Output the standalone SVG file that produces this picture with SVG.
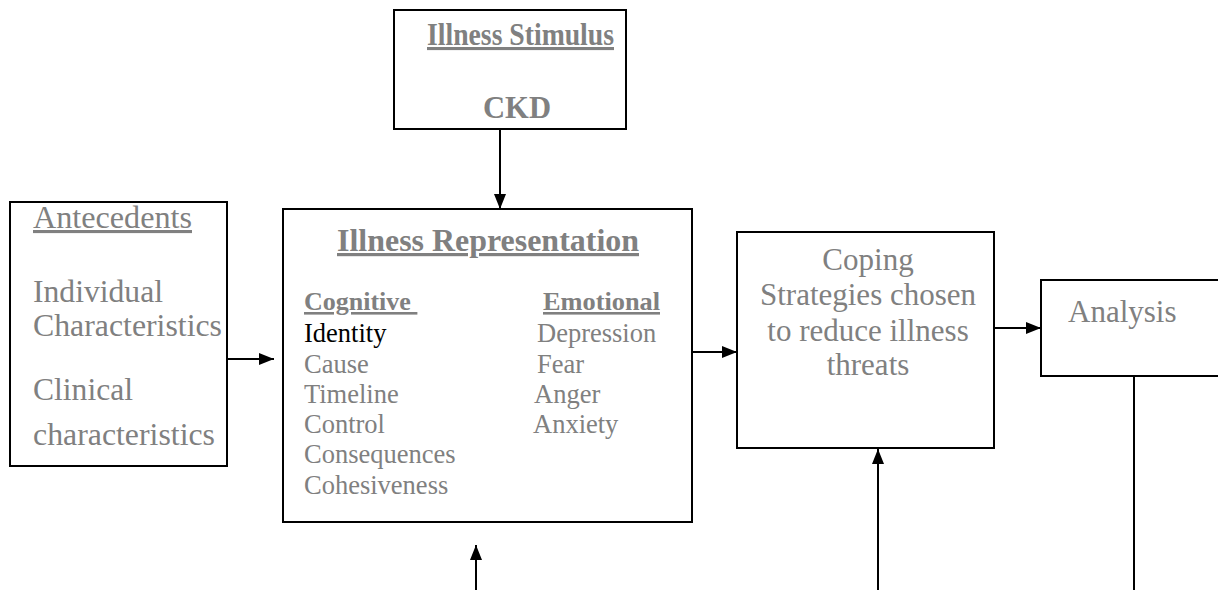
<svg xmlns="http://www.w3.org/2000/svg" width="1218" height="590" viewBox="0 0 1218 590">
<style>
.box{fill:#fff;stroke:#000;stroke-width:2}
.t{font-family:"Liberation Serif","Times New Roman",serif;fill:#808080}
.b{font-weight:bold}
.u{text-decoration:underline}
.k{fill:#000}
.m{text-anchor:middle}
.c{stroke:#000;stroke-width:2;fill:none}
</style>
<defs>
<marker id="ah" markerUnits="userSpaceOnUse" markerWidth="15" markerHeight="12" refX="15" refY="6" orient="auto" viewBox="0 0 15 12">
<path d="M0,0 L15,6 L0,12 z" fill="#000"/>
</marker>
</defs>
<rect width="1218" height="590" fill="#fff"/>
<g id="stimulus">
<rect class="box" x="394" y="10" width="232" height="119"/>
<text class="t b u" x="427" y="45" font-size="31" textLength="187" lengthAdjust="spacingAndGlyphs">Illness Stimulus</text>
<text class="t b" x="483" y="118" font-size="31" textLength="68" lengthAdjust="spacingAndGlyphs">CKD</text>
</g>
<g id="antecedents">
<rect class="box" x="10" y="202" width="217" height="264"/>
<text class="t u" x="33" y="228" font-size="31" textLength="159" lengthAdjust="spacingAndGlyphs">Antecedents</text>
<text class="t" x="33" y="302" font-size="31" textLength="130" lengthAdjust="spacingAndGlyphs">Individual</text>
<text class="t" x="33" y="336" font-size="31" textLength="189" lengthAdjust="spacingAndGlyphs">Characteristics</text>
<text class="t" x="33" y="400" font-size="31" textLength="100" lengthAdjust="spacingAndGlyphs">Clinical</text>
<text class="t" x="33" y="445" font-size="31" textLength="182" lengthAdjust="spacingAndGlyphs">characteristics</text>
</g>
<g id="representation">
<rect class="box" x="283" y="209" width="409" height="313"/>
<text class="t b u" x="337" y="251" font-size="32" textLength="302" lengthAdjust="spacingAndGlyphs">Illness Representation</text>
<text class="t b u" x="304" y="310" font-size="26" xml:space="preserve">Cognitive </text>
<text class="t b u" x="543" y="310" font-size="26" textLength="117" lengthAdjust="spacingAndGlyphs">Emotional</text>
<text class="t k" x="304" y="342" font-size="26.5">Identity</text>
<text class="t" x="304" y="373" font-size="26.5">Cause</text>
<text class="t" x="304" y="403" font-size="26.5">Timeline</text>
<text class="t" x="304" y="433" font-size="26.5">Control</text>
<text class="t" x="304" y="463" font-size="26.5">Consequences</text>
<text class="t" x="304" y="494" font-size="26.5">Cohesiveness</text>
<text class="t" x="537" y="342" font-size="26.5">Depression</text>
<text class="t" x="537" y="373" font-size="26.5">Fear</text>
<text class="t" x="534" y="403" font-size="26.5">Anger</text>
<text class="t" x="533" y="433" font-size="26.5">Anxiety</text>
</g>
<g id="coping">
<rect class="box" x="737" y="232" width="257" height="216"/>
<text class="t m" x="868" y="270" font-size="31">Coping</text>
<text class="t m" x="868" y="305" font-size="31">Strategies chosen</text>
<text class="t m" x="868" y="341" font-size="31">to reduce illness</text>
<text class="t m" x="868" y="375" font-size="31">threats</text>
</g>
<g id="analysis">
<rect class="box" x="1041" y="280" width="190" height="96"/>
<text class="t" x="1068" y="322" font-size="31">Analysis</text>
</g>
<g id="connectors">
<line class="c" x1="500" y1="130" x2="500" y2="209" marker-end="url(#ah)"/>
<line class="c" x1="227" y1="359" x2="274" y2="359" marker-end="url(#ah)"/>
<line class="c" x1="692" y1="352" x2="737" y2="352" marker-end="url(#ah)"/>
<line class="c" x1="994" y1="328" x2="1041" y2="328" marker-end="url(#ah)"/>
<line class="c" x1="878" y1="590" x2="878" y2="449" marker-end="url(#ah)"/>
<line class="c" x1="1134" y1="376" x2="1134" y2="590"/>
<line class="c" x1="476" y1="590" x2="476" y2="545" marker-end="url(#ah)"/>
</g>
</svg>
